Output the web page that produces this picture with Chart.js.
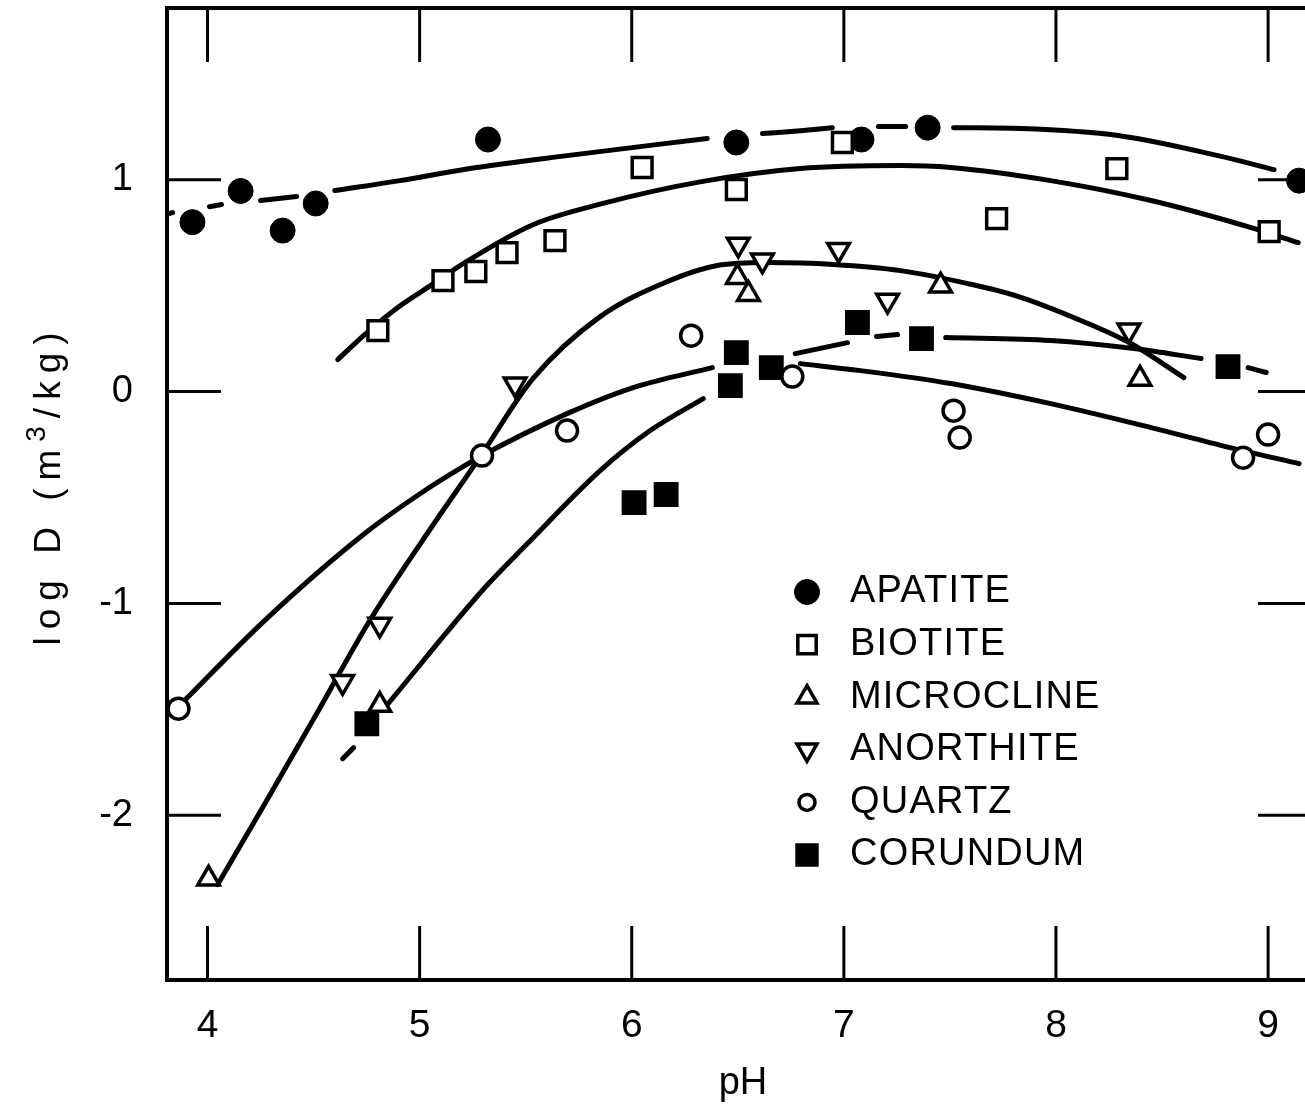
<!DOCTYPE html>
<html>
<head>
<meta charset="utf-8">
<title>log D vs pH</title>
<script src="https://cdn.jsdelivr.net/npm/chart.js@4.4.1/dist/chart.umd.min.js"></script>
<style>
  html, body { margin: 0; padding: 0; background: #fff; overflow: hidden; }
  #wrap { position: relative; width: 1320px; height: 1115px; }
</style>
</head>
<body>
<div id="wrap"><canvas id="chart"></canvas></div>
<script>
// axis ticks
const xTicks = [4, 5, 6, 7, 8, 9];
const yTicks = [-2, -1, 0, 1];
const minerals = ['APATITE', 'BIOTITE', 'MICROCLINE', 'ANORTHITE', 'QUARTZ', 'CORUNDUM'];

// measured points (pH, log D)
const apatitePH = [3.929, 4.156, 4.354, 4.510, 5.322, 6.493, 7.083, 7.395, 9.146];
const apatiteLogD = [0.800, 0.947, 0.760, 0.888, 1.190, 1.176, 1.190, 1.246, 0.996];

const biotitePH = [4.803, 5.110, 5.265, 5.412, 5.638, 6.049, 6.493, 6.993, 7.720, 8.287, 9.005];
const biotiteLogD = [0.288, 0.524, 0.567, 0.656, 0.713, 1.058, 0.954, 1.176, 0.817, 1.053, 0.755];

const microclinePH = [4.005, 4.812, 6.498, 6.550, 7.456, 8.396];
const microclineLogD = [-2.30, -1.48, 0.54, 0.46, 0.50, 0.06];

const anorthitePH = [4.637, 4.812, 5.450, 6.502, 6.616, 6.975, 7.206, 8.344];
const anorthiteLogD = [-1.37, -1.10, 0.035, 0.695, 0.62, 0.67, 0.43, 0.29];

const quartzPH = [3.863, 5.294, 5.695, 6.280, 6.757, 7.517, 7.546, 8.882, 9.000];
const quartzLogD = [-1.497, -0.302, -0.184, 0.264, 0.071, -0.090, -0.217, -0.312, -0.203];

const corundumPH = [4.751, 6.011, 6.162, 6.465, 6.493, 6.658, 7.064, 7.366, 8.811];
const corundumLogD = [-1.568, -0.524, -0.486, 0.028, 0.184, 0.113, 0.326, 0.250, 0.118];

// hand-drawn trend curves, null = pen lifted
const apatiteFitPH = [3.806, 3.835, 3.92, 4.009, 4.066, 4.16, 4.250, 4.420, 4.51, 4.600, 4.907, 5.237, 5.695, 6.356, 6.49, 6.616, 6.795, 6.946, 7.05, 7.163, 7.291, 7.40, 7.517, 7.834, 8.292, 8.764, 9.028];
const apatiteFitLogD = [0.836, 0.845, null, 0.873, 0.883, null, 0.902, 0.921, null, 0.949, 0.996, 1.053, 1.114, 1.195, null, 1.218, 1.232, 1.246, null, 1.251, 1.251, null, 1.246, 1.242, 1.209, 1.114, 1.048];

const biotiteFitPH = [4.614, 4.741, 4.897, 5.058, 5.213, 5.534, 5.851, 6.322, 6.794, 7.266, 7.503, 7.975, 8.448, 8.920, 9.142];
const biotiteFitLogD = [0.151, 0.269, 0.397, 0.505, 0.609, 0.788, 0.885, 0.990, 1.053, 1.067, 1.058, 0.996, 0.902, 0.774, 0.703];

const feldsparFitPH = [4.047, 4.279, 4.515, 4.765, 5.010, 5.289, 5.534, 5.851, 6.167, 6.403, 6.639, 6.951, 7.267, 7.584, 7.820, 8.131, 8.353, 8.603];
const feldsparFitLogD = [-2.328, -1.931, -1.52, -1.081, -0.708, -0.302, 0.061, 0.354, 0.519, 0.595, 0.609, 0.600, 0.571, 0.510, 0.45, 0.33, 0.227, 0.066];

const quartzFitPH = [3.891, 4.269, 4.741, 5.025, 5.246, 5.294, 5.695, 6.007, 6.380, 6.59, 6.795, 7.078, 7.503, 7.975, 8.448, 8.839, 9.146];
const quartzFitLogD = [-1.459, -1.081, -0.670, -0.467, -0.330, -0.302, -0.104, 0.019, 0.113, null, 0.132, 0.099, 0.038, -0.057, -0.170, -0.269, -0.340];

const corundumFitPH = [4.637, 4.689, 4.76, 4.836, 5.308, 5.506, 5.851, 6.087, 6.337, 6.55, 6.771, 7.017, 7.08, 7.154, 7.253, 7.37, 7.480, 7.975, 8.367, 8.684, 8.80, 8.906, 8.991];
const corundumFitLogD = [-1.733, -1.681, null, -1.492, -0.925, -0.72, -0.373, -0.184, -0.033, null, 0.179, 0.231, null, 0.260, 0.269, null, 0.255, 0.241, 0.203, 0.156, null, 0.113, 0.090];

const FONT = '"Liberation Sans", Arial, Helvetica, sans-serif';
Chart.defaults.font.family = FONT;
Chart.defaults.color = '#000';

// symbol for each mineral; legend uses its own sizes
const marks = {
  APATITE:    { style: 'circle',   rot: 0,   fill: '#000', bw: 1,   r: 12.5, lr: 12.5 },
  BIOTITE:    { style: 'rect',     rot: 0,   fill: '#fff', bw: 3.5, r: 14,   lr: 13 },
  MICROCLINE: { style: 'triangle', rot: 0,   fill: '#fff', bw: 3.5, r: 12.5, lr: 11.5 },
  ANORTHITE:  { style: 'triangle', rot: 180, fill: '#fff', bw: 3.5, r: 12.5, lr: 11.5 },
  QUARTZ:     { style: 'circle',   rot: 0,   fill: '#fff', bw: 3.5, r: 10.5, lr: 8 },
  CORUNDUM:   { style: 'rect',     rot: 0,   fill: '#000', bw: 1.5, r: 16.5, lr: 15.5 }
};

const pts = (xs, ys) => xs.map((x, i) => ({ x: x, y: ys[i] }));

function markerSet(name, xs, ys, order) {
  const m = marks[name];
  return {
    label: name,
    data: pts(xs, ys),
    showLine: false,
    pointStyle: m.style,
    pointRotation: m.rot,
    pointRadius: m.r,
    pointBackgroundColor: m.fill,
    pointBorderColor: '#000',
    pointBorderWidth: m.bw,
    order: order
  };
}

function curve(label, xs, ys) {
  return {
    label: label,
    data: pts(xs, ys),
    showLine: true,
    spanGaps: false,
    cubicInterpolationMode: 'monotone',
    borderColor: '#000',
    borderWidth: 5,
    borderCapStyle: 'round',
    borderJoinStyle: 'round',
    pointRadius: 0,
    order: 10
  };
}

// box with inward ticks on all four sides
const frame = {
  id: 'frame',
  beforeDatasetsDraw(chart) {
    const { ctx, chartArea: a, scales } = chart;
    const len = 54;
    ctx.save();
    ctx.strokeStyle = '#000';
    ctx.lineWidth = 4;
    ctx.strokeRect(a.left, a.top, a.right - a.left, a.bottom - a.top);
    ctx.lineWidth = 3;
    ctx.beginPath();
    xTicks.forEach(v => {
      const px = scales.x.getPixelForValue(v);
      ctx.moveTo(px, a.bottom); ctx.lineTo(px, a.bottom - len);
      ctx.moveTo(px, a.top); ctx.lineTo(px, a.top + len);
    });
    yTicks.forEach(v => {
      const py = scales.y.getPixelForValue(v);
      ctx.moveTo(a.left, py); ctx.lineTo(a.left + len, py);
      ctx.moveTo(a.right, py); ctx.lineTo(a.right - len, py);
    });
    ctx.stroke();
    ctx.restore();
  }
};

// draws pieces of text one after another, each with its own size and lift
function drawRun(ctx, pieces) {
  let total = 0;
  pieces.forEach(p => {
    ctx.font = p.size + 'px ' + FONT;
    p.w = ctx.measureText(p.text).width;
    total += p.w;
  });
  let x = -total / 2;
  pieces.forEach(p => {
    ctx.font = p.size + 'px ' + FONT;
    ctx.fillText(p.text, x, -(p.lift || 0));
    x += p.w;
  });
}

// axis titles and the symbol key
const annotations = {
  id: 'annotations',
  afterDraw(chart) {
    const ctx = chart.ctx;
    ctx.save();
    ctx.fillStyle = '#000';

    ctx.font = '38px ' + FONT;
    ctx.textAlign = 'center';
    ctx.textBaseline = 'middle';
    ctx.fillText('pH', 743, 1084);

    ctx.save();
    ctx.translate(50, 485);
    ctx.rotate(-Math.PI / 2);
    ctx.textAlign = 'left';
    ctx.letterSpacing = '8px';
    drawRun(ctx, [
      { text: 'log D (m', size: 37 },
      { text: '3', size: 28, lift: 13 },
      { text: '/kg)', size: 37 }
    ]);
    ctx.restore();

    ctx.textAlign = 'left';
    ctx.letterSpacing = '1.2px';
    minerals.forEach((name, i) => {
      const m = marks[name];
      const y = 592 + i * 52.6;
      ctx.fillStyle = m.fill;
      ctx.strokeStyle = '#000';
      ctx.lineWidth = m.bw;
      Chart.helpers.drawPoint(ctx, { pointStyle: m.style, rotation: m.rot, radius: m.lr, borderWidth: m.bw }, 807, y);
      ctx.fillStyle = '#000';
      ctx.font = '38px ' + FONT;
      ctx.fillText(name, 850, y);
    });
    ctx.restore();
  }
};

new Chart(document.getElementById('chart'), {
  type: 'scatter',
  data: {
    datasets: [
      markerSet('QUARTZ', quartzPH, quartzLogD, 1),
      markerSet('BIOTITE', biotitePH, biotiteLogD, 2),
      markerSet('ANORTHITE', anorthitePH, anorthiteLogD, 3),
      markerSet('MICROCLINE', microclinePH, microclineLogD, 4),
      markerSet('CORUNDUM', corundumPH, corundumLogD, 5),
      markerSet('APATITE', apatitePH, apatiteLogD, 6),
      curve('apatite fit', apatiteFitPH, apatiteFitLogD),
      curve('biotite fit', biotiteFitPH, biotiteFitLogD),
      curve('feldspar fit', feldsparFitPH, feldsparFitLogD),
      curve('quartz fit', quartzFitPH, quartzFitLogD),
      curve('corundum fit', corundumFitPH, corundumFitLogD)
    ]
  },
  options: {
    responsive: true,
    maintainAspectRatio: false,
    animation: false,
    layout: { autoPadding: false, padding: { top: 8, right: 8, left: 0, bottom: 0 } },
    plugins: { legend: { display: false }, tooltip: { enabled: false } },
    scales: {
      x: {
        type: 'linear',
        min: 3.809,
        max: 9.207,
        afterBuildTicks: s => { s.ticks = xTicks.map(v => ({ value: v })); },
        afterFit: s => { s.height = 135; s.paddingLeft = 0; s.paddingRight = 0; },
        grid: { display: false, drawTicks: false },
        border: { display: false },
        ticks: { font: { size: 39 }, padding: 23, maxRotation: 0, callback: v => String(v) }
      },
      y: {
        type: 'linear',
        min: -2.778,
        max: 1.811,
        afterBuildTicks: s => { s.ticks = yTicks.map(v => ({ value: v })); },
        afterFit: s => { s.width = 167; s.paddingTop = 0; s.paddingBottom = 0; },
        grid: { display: false, drawTicks: false },
        border: { display: false },
        ticks: { font: { size: 38 }, padding: 34, callback: v => String(v) }
      }
    }
  },
  plugins: [frame, annotations]
});
</script>
</body>
</html>
